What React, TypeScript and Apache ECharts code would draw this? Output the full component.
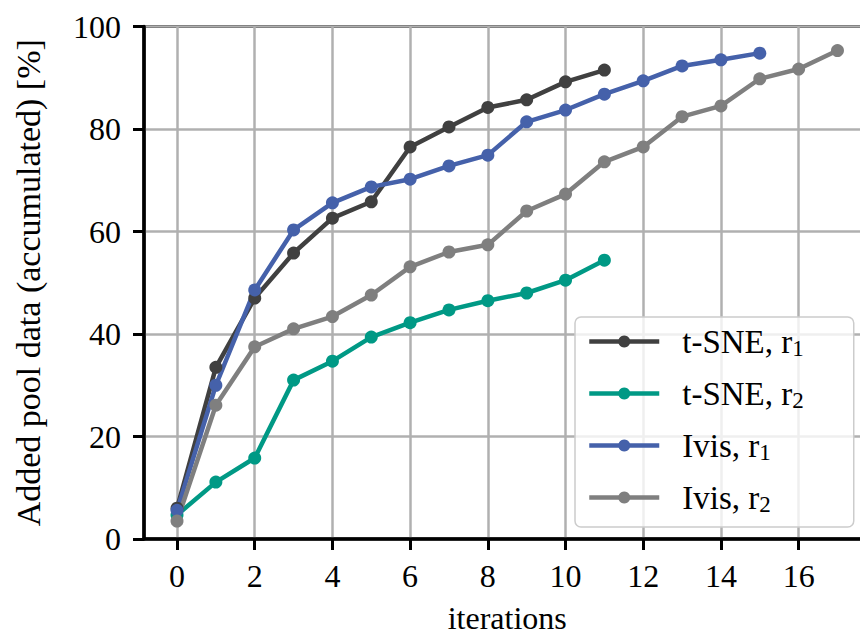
import React, { useEffect, useRef } from "react";
import * as echarts from "echarts";

const iterations = [0, 1, 2, 3, 4, 5, 6, 7, 8, 9, 10, 11, 12, 13, 14, 15, 16, 17];
const tsneR1 = [6.0, 33.5, 47.0, 55.8, 62.6, 65.8, 76.5, 80.4, 84.2, 85.7, 89.2, 91.5];
const tsneR2 = [4.7, 11.1, 15.8, 31.0, 34.7, 39.4, 42.2, 44.7, 46.5, 48.0, 50.5, 54.4];
const ivisR1 = [5.6, 30.0, 48.6, 60.3, 65.6, 68.7, 70.2, 72.8, 74.9, 81.4, 83.7, 86.8, 89.4, 92.3, 93.5, 94.8];
const ivisR2 = [3.5, 26.1, 37.5, 41.0, 43.4, 47.6, 53.1, 56.0, 57.4, 64.0, 67.3, 73.6, 76.5, 82.4, 84.5, 89.8, 91.7, 95.3];
const xTicks = [0, 2, 4, 6, 8, 10, 12, 14, 16];
const seriesNames = ["t-SNE, r1", "t-SNE, r2", "Ivis, r1", "Ivis, r2"];
const seriesColors = ["#404040", "#009985", "#4561aa", "#7f7f7f"];

const FONT = "Liberation Serif";

export default function App() {
  const ref = useRef<HTMLDivElement>(null);
  useEffect(() => {
    if (!ref.current) return;
    const chart = echarts.init(ref.current, null, { renderer: "svg" });
    const values = [tsneR1, tsneR2, ivisR1, ivisR2];
    const series = values.map((vals, i) => ({
      name: seriesNames[i],
      type: "line",
      data: vals.map((v, j) => [iterations[j], v]),
      symbol: "circle",
      symbolSize: 13,
      lineStyle: { width: 4.5, color: seriesColors[i] },
      itemStyle: { color: seriesColors[i] },
      z: 3,
    }));
    chart.setOption({
      animation: false,
      textStyle: { fontFamily: FONT },
      grid: {
        left: 144,
        top: 26.5,
        width: 726.5,
        height: 512.5,
        show: true,
        borderColor: "#000",
        borderWidth: 3,
        backgroundColor: "transparent",
        outerBoundsMode: "none",
      },
      xAxis: {
        type: "value",
        min: -0.85,
        max: 17.85,
        name: "iterations",
        nameLocation: "middle",
        nameGap: 63,
        nameTextStyle: { fontFamily: FONT, fontSize: 32, color: "#000" },
        axisLine: { show: true, onZero: false, lineStyle: { color: "#000", width: 3.5 } },
        axisTick: { show: true, length: 11, lineStyle: { color: "#000", width: 3 }, customValues: xTicks },
        axisLabel: { fontFamily: FONT, fontSize: 32, color: "#000", margin: 21, customValues: xTicks },
        splitLine: { show: true, lineStyle: { color: "#b0b0b0", width: 2.5 }, customValues: xTicks },
      },
      yAxis: {
        type: "value",
        min: 0,
        max: 100,
        interval: 20,
        name: "Added pool data (accumulated) [%]",
        nameLocation: "middle",
        nameGap: 99,
        nameTextStyle: { fontFamily: FONT, fontSize: 34, color: "#000" },
        axisLine: { show: true, onZero: false, lineStyle: { color: "#000", width: 3.5 } },
        axisTick: { show: true, length: 11, lineStyle: { color: "#000", width: 3 } },
        axisLabel: { fontFamily: FONT, fontSize: 32, color: "#000", margin: 23 },
        splitLine: { show: true, lineStyle: { color: "#b0b0b0", width: 2.5 } },
      },
      legend: {
        show: true,
        orient: "vertical",
        left: 575,
        top: 317,
        padding: [6, 50, 11, 12],
        itemWidth: 70,
        itemHeight: 15,
        itemGap: 15,
        backgroundColor: "rgba(255,255,255,0.8)",
        borderColor: "#cccccc",
        borderWidth: 1.5,
        borderRadius: 6,
        lineStyle: { width: 4.5 },
        data: seriesNames,
        formatter: (name: string) => {
          const base = name.slice(0, -1);
          const sub = name.slice(-1);
          return `{n|${base}}{s|${sub}}`;
        },
        textStyle: {
          fontFamily: FONT,
          fontSize: 33,
          color: "#000",
          padding: [0, 0, 0, 18],
          rich: {
            n: { fontFamily: FONT, fontSize: 33, color: "#000", lineHeight: 36 },
            s: { fontFamily: FONT, fontSize: 23, color: "#000", lineHeight: 36, padding: [14, 0, 0, 0] },
          },
        },
      },
      series,
    });
    return () => chart.dispose();
  }, []);
  return (
    <div
      ref={ref}
      style={{ position: "fixed", left: 0, top: 0, width: 860, height: 635, background: "#fff" }}
    />
  );
}
